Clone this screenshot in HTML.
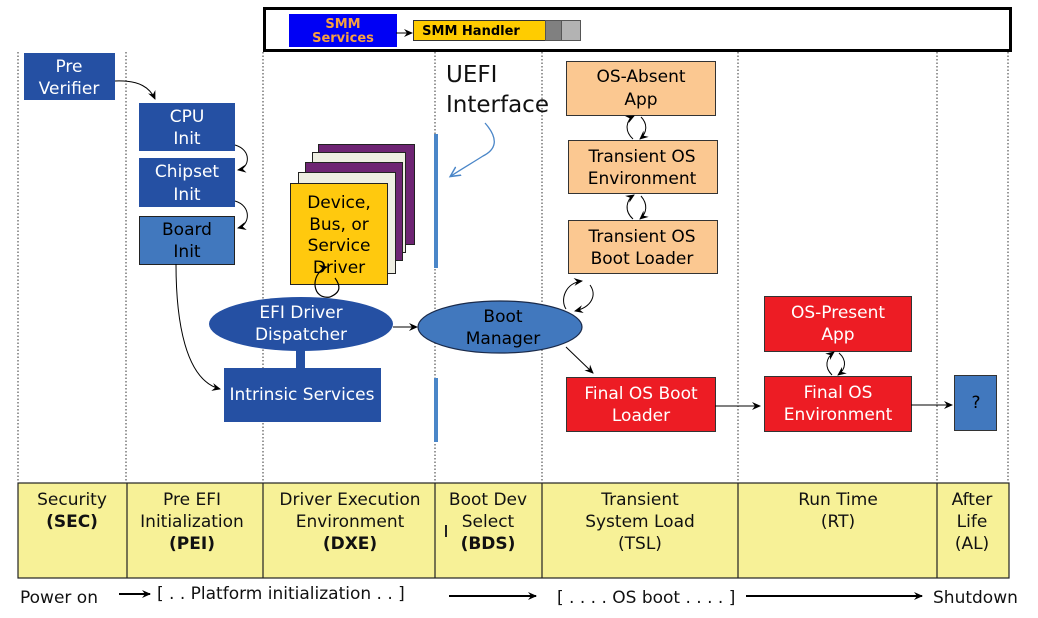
<!DOCTYPE html>
<html><head><meta charset="utf-8"><style>
html,body{margin:0;padding:0;background:#fff;}
svg{display:block;}
text{font-family:"DejaVu Sans","Liberation Sans",sans-serif;}
.w{fill:#fff;font-size:17px;text-anchor:middle;}
.b{fill:#000;font-size:17px;text-anchor:middle;}
.y{fill:#111;font-size:17px;text-anchor:middle;}
.dot{stroke:#333;stroke-width:1;stroke-dasharray:1.5,2;}
</style></head><body>
<svg width="1038" height="618" viewBox="0 0 1038 618" xmlns="http://www.w3.org/2000/svg">
<defs>
<marker id="a" markerWidth="10" markerHeight="10" refX="8" refY="5" orient="auto" markerUnits="userSpaceOnUse"><path d="M0,1 L9,5 L0,9 L3,5 Z" fill="#000"/></marker>
<marker id="ab" markerWidth="12" markerHeight="12" refX="9" refY="6" orient="auto" markerUnits="userSpaceOnUse"><path d="M0,1 L10,6 L0,11" fill="none" stroke="#4a86c8" stroke-width="1.5"/></marker>
</defs>
<g class="dot">
<line x1="18" y1="52" x2="18" y2="483"/>
<line x1="126" y1="52" x2="126" y2="483"/>
<line x1="263" y1="52" x2="263" y2="483"/>
<line x1="435" y1="52" x2="435" y2="483"/>
<line x1="542" y1="52" x2="542" y2="483"/>
<line x1="738" y1="52" x2="738" y2="483"/>
<line x1="937" y1="52" x2="937" y2="483"/>
<line x1="1008" y1="52" x2="1008" y2="483"/>
</g>
<rect x="264.5" y="8.5" width="746" height="42" fill="#fff" stroke="#000" stroke-width="3"/>
<rect x="289" y="14" width="108" height="33" fill="#0000f5"/>
<text x="343" y="28" font-size="13" font-weight="bold" fill="#f7a040" text-anchor="middle" font-family="Liberation Sans,sans-serif">SMM</text>
<text x="343" y="42" font-size="13" font-weight="bold" fill="#f7a040" text-anchor="middle" font-family="Liberation Sans,sans-serif">Services</text>
<line x1="396" y1="33" x2="412" y2="33" stroke="#000" marker-end="url(#a)"/>
<rect x="413.5" y="20.5" width="132" height="20" fill="#ffcc00" stroke="#333"/>
<text x="471" y="35" font-size="13" font-weight="bold" fill="#000" text-anchor="middle" font-family="Liberation Sans,sans-serif">SMM Handler</text>
<rect x="545.5" y="20.5" width="16" height="20" fill="#808080" stroke="#555"/>
<rect x="561.5" y="20.5" width="19" height="20" fill="#b3b3b3" stroke="#555"/>
<rect x="24" y="53" width="91" height="47" fill="#2550a3"/>
<text class="w" x="69" y="72">Pre</text><text class="w" x="69" y="94">Verifier</text>
<path d="M115,81 C140,80 150,88 155,99" fill="none" stroke="#000" marker-end="url(#a)"/>
<rect x="139" y="103" width="96" height="48" fill="#2550a3"/>
<text class="w" x="187" y="122">CPU</text><text class="w" x="187" y="144">Init</text>
<path d="M235,145 C252,150 250,168 238,170" fill="none" stroke="#000" marker-end="url(#a)"/>
<rect x="139" y="158" width="96" height="49" fill="#2550a3"/>
<text class="w" x="187" y="177">Chipset</text><text class="w" x="187" y="200">Init</text>
<path d="M235,201 C252,206 250,225 238,228" fill="none" stroke="#000" marker-end="url(#a)"/>
<rect x="139.5" y="216.5" width="95" height="48" fill="#4178be" stroke="#222"/>
<text class="b" x="187" y="235">Board</text><text class="b" x="187" y="257">Init</text>
<path d="M176,264 C176,320 185,380 220,389" fill="none" stroke="#000" marker-end="url(#a)"/>
<rect x="318.5" y="144.5" width="96" height="100" fill="#6e2473" stroke="#222"/>
<rect x="312.5" y="152.5" width="93" height="100" fill="#eeeee2" stroke="#222"/>
<rect x="305.5" y="162.5" width="97" height="98" fill="#6e2473" stroke="#222"/>
<rect x="298.5" y="172.5" width="97" height="101" fill="#eeeee2" stroke="#222"/>
<rect x="290.5" y="183.5" width="97" height="101" fill="#ffc90e" stroke="#222"/>
<text class="b" x="339" y="208">Device,</text>
<text class="b" x="339" y="230">Bus, or</text>
<text class="b" x="339" y="251">Service</text>
<text class="b" x="339" y="273">Driver</text>
<path d="M325,268 C310,275 312,300 330,297 C342,292 340,285 335,278" fill="none" stroke="#000" stroke-width="1.2"/>
<path d="M322,268 L327,267" stroke="#000" marker-end="url(#a)"/>
<rect x="434" y="134" width="4" height="134" fill="#4a86c8"/>
<rect x="434" y="378" width="4" height="64" fill="#4a86c8"/>
<text x="446" y="82" font-size="23" fill="#111">UEFI</text>
<text x="446" y="112" font-size="23" fill="#111">Interface</text>
<path d="M485,123 C500,140 495,150 483,156 C472,163 460,170 451,176" fill="none" stroke="#4a86c8" stroke-width="1.3" marker-end="url(#ab)"/>
<rect x="296" y="348" width="9" height="22" fill="#2550a3"/>
<ellipse cx="301" cy="324" rx="92" ry="27" fill="#2550a3"/>
<text class="w" x="301" y="318">EFI Driver</text>
<text class="w" x="301" y="340">Dispatcher</text>
<rect x="224" y="368" width="157" height="54" fill="#2550a3"/>
<text class="w" x="302" y="400">Intrinsic Services</text>
<line x1="393" y1="327" x2="417" y2="327" stroke="#000" marker-end="url(#a)"/>
<ellipse cx="500" cy="327" rx="82" ry="26" fill="#4178be" stroke="#1a2a4a" stroke-width="1.2"/>
<text class="b" x="503" y="322">Boot</text>
<text class="b" x="503" y="344">Manager</text>
<path d="M566,309 C560,300 565,283 582,281" fill="none" stroke="#000" marker-end="url(#a)"/>
<path d="M590,285 C597,295 592,307 575,311" fill="none" stroke="#000" marker-end="url(#a)"/>
<line x1="566" y1="347" x2="593" y2="373" stroke="#000" marker-end="url(#a)"/>
<rect x="566.5" y="61.5" width="149" height="54" fill="#fbc891" stroke="#333"/>
<text class="b" x="641" y="82">OS-Absent</text><text class="b" x="641" y="105">App</text>
<rect x="568.5" y="140.5" width="149" height="53" fill="#fbc891" stroke="#333"/>
<text class="b" x="642" y="162">Transient OS</text><text class="b" x="642" y="184">Environment</text>
<rect x="568.5" y="220.5" width="149" height="53" fill="#fbc891" stroke="#333"/>
<text class="b" x="642" y="242">Transient OS</text><text class="b" x="642" y="264">Boot Loader</text>
<path d="M633,139 C624,131 626,120 634,116" fill="none" stroke="#000" marker-end="url(#a)"/>
<path d="M641,117 C648,124 647,133 640,139" fill="none" stroke="#000" marker-end="url(#a)"/>
<path d="M633,219 C624,211 626,200 634,195" fill="none" stroke="#000" marker-end="url(#a)"/>
<path d="M641,196 C648,204 647,213 640,219" fill="none" stroke="#000" marker-end="url(#a)"/>
<rect x="566.5" y="377.5" width="149" height="54" fill="#ed1c24" stroke="#333"/>
<text class="w" x="641" y="399">Final OS Boot</text><text class="w" x="641" y="421">Loader</text>
<line x1="715" y1="406" x2="760" y2="406" stroke="#000" marker-end="url(#a)"/>
<rect x="764.5" y="296.5" width="147" height="55" fill="#ed1c24" stroke="#333"/>
<text class="w" x="838" y="318">OS-Present</text><text class="w" x="838" y="340">App</text>
<rect x="764.5" y="376.5" width="147" height="55" fill="#ed1c24" stroke="#333"/>
<text class="w" x="838" y="398">Final OS</text><text class="w" x="838" y="420">Environment</text>
<path d="M832,375 C824,367 826,358 834,352" fill="none" stroke="#000" marker-end="url(#a)"/>
<path d="M839,353 C847,360 846,369 838,375" fill="none" stroke="#000" marker-end="url(#a)"/>
<line x1="911" y1="405" x2="952" y2="405" stroke="#000" marker-end="url(#a)"/>
<rect x="954.5" y="375.5" width="42" height="55" fill="#4178be" stroke="#333"/>
<text class="b" x="976" y="408">?</text>
<rect x="18" y="483" width="991" height="95" fill="#f7f197" stroke="#222" stroke-width="1.2"/>
<g stroke="#222" stroke-width="1.2">
<line x1="127" y1="483" x2="127" y2="578"/><line x1="263" y1="483" x2="263" y2="578"/>
<line x1="435" y1="483" x2="435" y2="578"/><line x1="542" y1="483" x2="542" y2="578"/>
<line x1="738" y1="483" x2="738" y2="578"/><line x1="937" y1="483" x2="937" y2="578"/>
</g>
<text class="y" x="72" y="505">Security</text><text class="y" x="72" y="527" font-weight="bold">(SEC)</text>
<text class="y" x="192" y="505">Pre EFI</text><text class="y" x="192" y="527">Initialization</text><text class="y" x="192" y="549" font-weight="bold">(PEI)</text>
<text class="y" x="350" y="505">Driver Execution</text><text class="y" x="350" y="527">Environment</text><text class="y" x="350" y="549" font-weight="bold">(DXE)</text>
<text class="y" x="488" y="505">Boot Dev</text><text class="y" x="488" y="527">Select</text><text class="y" x="488" y="549" font-weight="bold">(BDS)</text>
<rect x="445" y="525" width="2" height="12" fill="#222"/>
<text class="y" x="640" y="505">Transient</text><text class="y" x="640" y="527">System Load</text><text class="y" x="640" y="549">(TSL)</text>
<text class="y" x="838" y="505">Run Time</text><text class="y" x="838" y="527">(RT)</text>
<text class="y" x="972" y="505">After</text><text class="y" x="972" y="527">Life</text><text class="y" x="972" y="549">(AL)</text>
<g font-size="17" fill="#111">
<text x="20" y="603">Power on</text>
<text x="157" y="599">[ . . Platform initialization . . ]</text>
<text x="557" y="603">[ . . . . OS boot . . . . ]</text>
<text x="933" y="603">Shutdown</text>
</g>
<line x1="119" y1="594" x2="150" y2="594" stroke="#000" stroke-width="2" marker-end="url(#a)"/>
<line x1="449" y1="596" x2="536" y2="596" stroke="#000" stroke-width="2" marker-end="url(#a)"/>
<line x1="746" y1="596" x2="922" y2="596" stroke="#000" stroke-width="2" marker-end="url(#a)"/>
</svg>
</body></html>
